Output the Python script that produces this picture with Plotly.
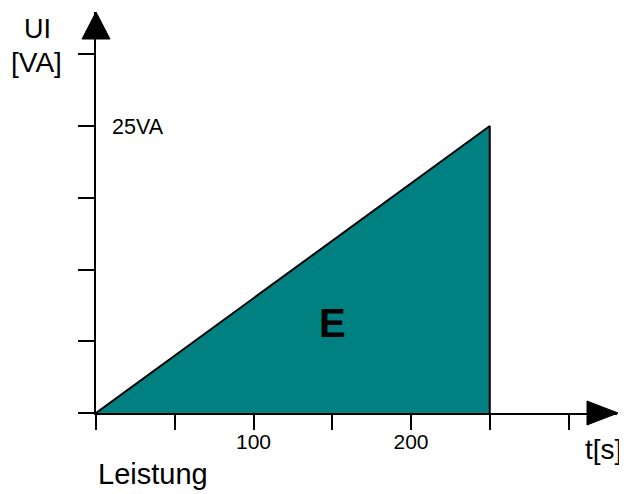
import plotly.graph_objects as go

# Data
t_values = [0, 250, 250]
p_values = [0, 25, 0]
x_ticks = [0, 50, 100, 150, 200, 250, 300]
x_tick_text = ["", "", "100", "", "200", "", ""]
y_ticks = [0, 6.25, 12.5, 18.75, 25, 31.25]

OFF = 8  # page body margin
W, H = 627 - OFF, 494 - OFF
L, T = 96 - OFF, 12 - OFF
R = W - (617 - OFF)
B = H - (413 - OFF)
pw, ph = W - L - R, H - T - B
x_max = pw / 1.575
y_max = ph / 11.48

def px(x):
    return (x - OFF - L) / pw

def py(y):
    return (H - B - (y - OFF)) / ph

FONT = "Liberation Sans, Arial, sans-serif"

fig = go.Figure()
fig.add_trace(go.Scatter(
    x=t_values, y=p_values, mode="lines", fill="toself",
    fillcolor="#008080", line=dict(color="black", width=2),
    hoverinfo="skip", showlegend=False,
))

# arrowheads
ya = f"M {px(96)},{py(12)} L {px(82)},{py(39)} L {px(110)},{py(39)} Z"
xa = f"M {px(618)},{py(413)} L {px(587)},{py(401)} L {px(587)},{py(425)} Z"
for p in (ya, xa):
    fig.add_shape(type="path", path=p, xref="paper", yref="paper",
                  fillcolor="black", line=dict(color="black", width=1))

ann = [
    ("UI", 37, 29, 27, False),
    ("[VA]", 36, 62, 28, False),
    ("25VA", 138, 127, 21.5, False),
    ("t[s]", 603, 450, 28, False),
    ("Leistung", 153, 474, 29, False),
    ("E", 332, 323, 40, True),
]
for txt, x, y, s, b in ann:
    fig.add_annotation(text=f"<b>{txt}</b>" if b else txt, x=px(x), y=py(y),
                       xref="paper", yref="paper", showarrow=False,
                       xanchor="center", yanchor="middle",
                       font=dict(family=FONT, size=s, color="black"))

fig.update_layout(
    width=W, height=H, margin=dict(l=L, r=R, t=T, b=B),
    paper_bgcolor="white", plot_bgcolor="white",
    xaxis=dict(range=[0, x_max], showgrid=False, zeroline=False,
               showline=True, linecolor="black", linewidth=2,
               ticks="outside", ticklen=15, tickwidth=2, tickcolor="black",
               tickvals=x_ticks, ticktext=x_tick_text, ticklabelstandoff=-6,
               tickfont=dict(family=FONT, size=21, color="black")),
    yaxis=dict(range=[0, y_max], showgrid=False, zeroline=False,
               showline=True, linecolor="black", linewidth=2,
               ticks="outside", ticklen=16, tickwidth=2, tickcolor="black",
               tickvals=y_ticks, showticklabels=False),
)

fig.write_html("out.html")
